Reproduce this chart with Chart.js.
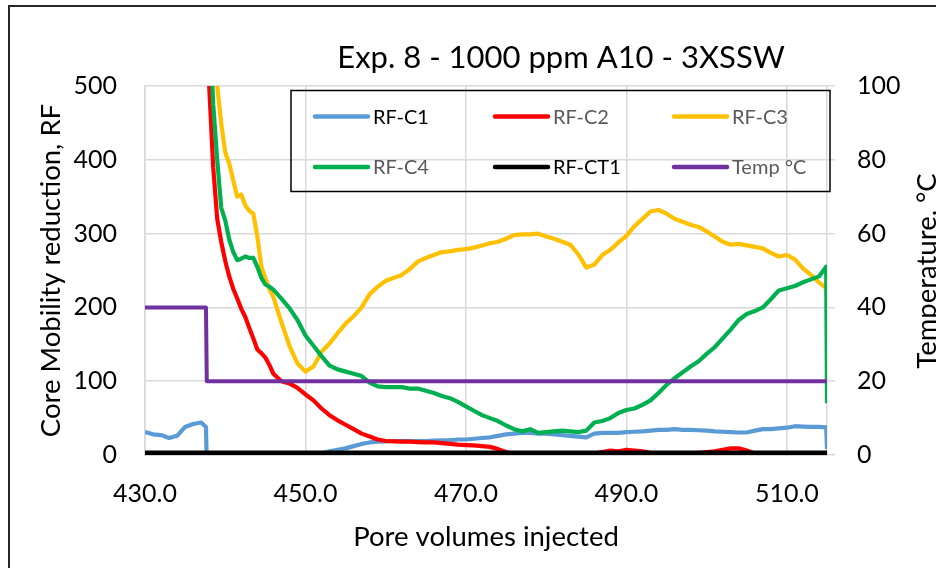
<!DOCTYPE html>
<html>
<head>
<meta charset="utf-8">
<script src="https://cdn.jsdelivr.net/npm/chart.js@4.4.1/dist/chart.umd.min.js"></script>
<style>
  html, body { margin: 0; padding: 0; overflow: hidden; background: #fff; }
  #wrap { position: relative; width: 936px; height: 568px; overflow: hidden; }
  #frame { position: absolute; left: 8px; top: 5px; width: 1000px; height: 700px;
           border-left: 2px solid #262626; border-top: 2px solid #262626; }
  canvas { position: absolute; left: 0; top: 0; }
</style>
</head>
<body>
<div id="wrap">
  <div id="frame"></div>
  <canvas id="myChart" width="960" height="568"></canvas>
</div>
<script>
 // pore volumes injected (shared x for the RF series)
 const pv = [430,431,432,433,434,435,436,437,437.6,437.7,
   438,438.5,439,439.5,440,440.5,441,441.5,442,442.5,
   443,443.5,444,444.5,445,445.5,
   446,447,448,449,450,451,452,453,454,455,
   456,457,458,459,460,461,462,463,464,465,
   466,467,468,469,470,471,472,473,474,475,
   476,477,478,479,480,481,482,483,484,485,
   486,487,488,489,490,491,492,493,494,495,
   496,497,498,499,500,501,502,503,504,505,
   506,507,508,509,510,511,512,513,514,
   514.9,515];

 const rfC1 = [31,28,27,23,26,38,42,44,38,-15,
   -20,-20,-20,-19,-18,-17,-15,-14,-12,-10,
   -8,-6,-4,-2,-1,0,
   0,1,1,0,-1,0,2,5,7,9,
   12,15,17,18,18.5,19,19,19,19,19,
   19.5,20,20,21,21,22,23,24,26,28,
   29,30,30,29,29,28,27,26,25,24,
   29,30,30,30,31,31.5,32,33,34,34,
   35,34,34,33.5,33,32,31.5,31,30.5,30.5,
   33,35,35,36,37,39,38.5,38,38,
   37.5,8];

 const rfC2 = [null,null,null,null,null,null,null,null,null,650,
   500,390,320,289,263,242,225,212,198,187,
   172,158,143,138,132,122,
   110,100,97,91,82,74,63,54,47,41,
   35,29,25,21,19,18.5,18,18,17.5,17,
   17,16,15,14,13.5,13,12,11,8,4,
   0,-3,-5,-4,-5,-3,-2,0,1,0,
   2,4,6,5,7,6,5,3,1,0,
   -2,0,1,3,4,5,7,9,9,6,
   2,-2,-3,-3,-4,-3,-2,-2,-1,
   -1,-8];

 const rfC3 = [null,null,null,null,null,null,null,null,null,null,
   null,620,500,449,410,395,372,350,353,338,
   331,327,296,255,240,225,
   214,180,148,124,113,120,140,151,165,178,
   188,200,218,228,236,240,244,252,262,267,
   271,275,276,278,279,281,284,287,289,293,
   298,299,299,300,296,293,289,285,272,254,
   258,271,278,288,297,310,320,330,332,327,
   320,316,312,309,303,296,289,285,286,284,
   282,280,274,269,271,265,253,244,234,
   226,null];

 const rfC4 = [null,null,null,null,null,null,null,null,null,null,
   600,475,400,335,318,292,275,264,266,269,
   267,267,255,240,231,228,
   224,212,199,183,162,148,134,121,116,113,
   110,107,98,93,92,92,92,90,90,87,
   84,80,77,72,66,60,54,50,46,40,
   35,32,35,30,31,32,33,32,31,33,
   44,46,50,57,61,63,68,74,84,95,
   104,112,120,127,137,146,158,170,183,191,
   195,200,211,223,226,229,234,238,242,
   255,70];

 const ct1X = [430, 515];
 const ct1Y = [3, 3];

 const tempX = [430, 437.6, 437.7, 515];
 const tempY = [40, 40, 20, 20];

 const xTicks = [430, 450, 470, 490, 510];

 const chartTitle = 'Exp. 8 - 1000 ppm A10 - 3XSSW';
 const rightTitle = 'Temperature, °C';
 const legendNames = ['RF-C1', 'RF-C2', 'RF-C3', 'RF-C4', 'RF-CT1', 'Temp °C'];
 const legendTextColors = ['#000', '#595959', '#595959', '#595959', '#000', '#595959'];

 function pts(xs, ys) {
   return xs.map((x, i) => ({x: x, y: ys[i]}));
 }

 const FONT = 'Lato';

 // title, right axis title and boxed legend (Excel style)
 const overlay = {
   id: 'overlay',
   afterDraw(chart) {
     const ctx = chart.ctx;
     ctx.save();
     ctx.fillStyle = '#000';
     ctx.textAlign = 'center';
     ctx.textBaseline = 'middle';
     ctx.font = '31px ' + FONT;
     ctx.fillText(chartTitle, 561, 58);

     ctx.save();
     ctx.translate(927, 271);
     ctx.rotate(-Math.PI / 2);
     ctx.font = '27.5px ' + FONT;
     ctx.fillText(rightTitle, 0, 0);
     ctx.restore();

     ctx.strokeStyle = '#000';
     ctx.lineWidth = 1.5;
     ctx.strokeRect(291, 90.5, 539, 101);

     const colX = [315, 495, 674];
     const rowY = [116.5, 167];
     ctx.textAlign = 'left';
     ctx.font = '20px ' + FONT;
     legendNames.forEach((name, i) => {
       const ds = chart.data.datasets[i];
       const x = colX[i % 3];
       const y = rowY[Math.floor(i / 3)];
       ctx.strokeStyle = ds.borderColor;
       ctx.lineWidth = 4.5;
       ctx.lineCap = 'round';
       ctx.beginPath();
       ctx.moveTo(x, y);
       ctx.lineTo(x + 53, y);
       ctx.stroke();
       ctx.fillStyle = legendTextColors[i];
       ctx.fillText(name, x + 58, y + 1);
     });
     ctx.restore();
   }
 };

 const ctx = document.getElementById('myChart');

 new Chart(ctx, {
   type: 'line',
   data: {
     datasets: [
       { label: 'RF-C1', data: pts(pv, rfC1), borderColor: '#5B9BD5', borderWidth: 4.2, yAxisID: 'y', order: 5 },
       { label: 'RF-C2', data: pts(pv, rfC2), borderColor: '#FF0000', borderWidth: 4.2, yAxisID: 'y', order: 4 },
       { label: 'RF-C3', data: pts(pv, rfC3), borderColor: '#FFC000', borderWidth: 4.2, yAxisID: 'y', order: 3 },
       { label: 'RF-C4', data: pts(pv, rfC4), borderColor: '#00B050', borderWidth: 4.2, yAxisID: 'y', order: 2 },
       { label: 'RF-CT1', data: pts(ct1X, ct1Y), borderColor: '#000000', borderWidth: 4.5, yAxisID: 'y', order: 1 },
       { label: 'Temp °C', data: pts(tempX, tempY), borderColor: '#7030A0', borderWidth: 4, yAxisID: 'y1', order: 0 }
     ]
   },
   options: {
     responsive: false,
     animation: false,
     devicePixelRatio: 1,
     layout: { padding: { top: 86, left: 0, right: 0, bottom: 0 } },
     elements: { point: { radius: 0 }, line: { tension: 0, borderCapStyle: 'butt', borderJoinStyle: 'round' } },
     plugins: { legend: { display: false }, title: { display: false }, tooltip: { enabled: false } },
     scales: {
       x: {
         type: 'linear',
         min: 430,
         max: 515,
         afterBuildTicks: axis => { axis.ticks = xTicks.map(v => ({ value: v })); },
         afterFit: s => { s.height = 113; },
         grid: { color: '#d9d9d9', lineWidth: 1.5, drawTicks: false },
         border: { color: '#bfbfbf', width: 1.5 },
         ticks: { padding: 24, color: '#000', font: { family: FONT, size: 25 }, callback: v => Number(v).toFixed(1), maxRotation: 0 },
         title: { display: true, text: 'Pore volumes injected', color: '#000', font: { family: FONT, size: 27.5 }, padding: { top: 0, bottom: 14.5 } }
       },
       y: {
         position: 'left',
         min: 0,
         max: 500,
         afterFit: s => { s.width = 145; },
         grid: { color: '#d9d9d9', lineWidth: 1.5, drawTicks: false },
         border: { color: '#d9d9d9', width: 1.5 },
         ticks: { stepSize: 100, padding: 28, color: '#000', font: { family: FONT, size: 25 } },
         title: { display: true, text: 'Core Mobility reduction, RF', color: '#000', font: { family: FONT, size: 27.5 }, padding: { top: 34.5, bottom: 0 } }
       },
       y1: {
         position: 'right',
         min: 0,
         max: 100,
         afterFit: s => { s.width = 960 - 827; },
         grid: { drawOnChartArea: false, drawTicks: true, tickLength: 8, color: '#d9d9d9', lineWidth: 1.5 },
         border: { color: '#d9d9d9', width: 1.5 },
         ticks: { stepSize: 20, padding: 22, color: '#000', font: { family: FONT, size: 25 } }
       }
     }
   },
   plugins: [overlay]
 });
</script>
</body>
</html>
